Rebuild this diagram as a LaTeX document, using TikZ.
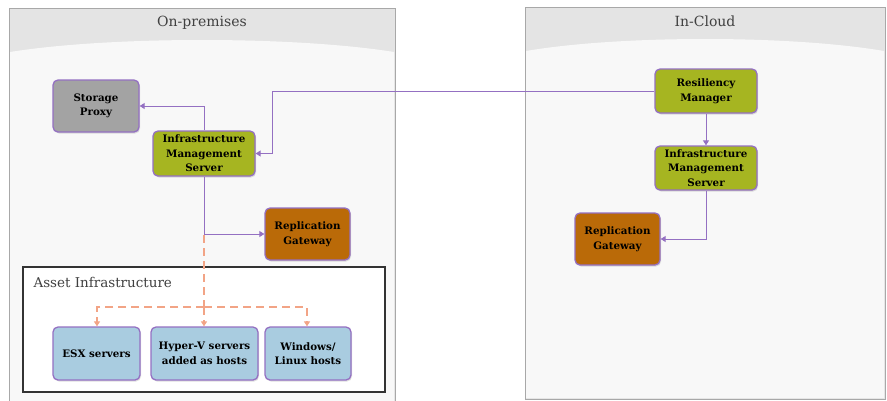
\documentclass[tikz,border=0pt]{standalone}
\usepackage{fontspec}
\setmainfont{DejaVu Serif}
\usetikzlibrary{arrows.meta,shadows}
\definecolor{panelbg}{HTML}{F8F8F8}
\definecolor{headbg}{HTML}{E4E4E4}
\definecolor{panelline}{HTML}{A8A8A8}
\definecolor{boxline}{HTML}{9470C2}
\definecolor{flow}{HTML}{9470C2}
\definecolor{dashc}{HTML}{F2A486}
\definecolor{grayfill}{HTML}{A3A3A3}
\definecolor{greenfill}{HTML}{A6B521}
\definecolor{brownfill}{HTML}{BA6A08}
\definecolor{bluefill}{HTML}{A9CCE0}
\begin{document}
\begin{tikzpicture}[x=1pt,y=-1pt,
  box/.style={draw=boxline, line width=1.3pt, rounded corners=5pt, align=center, inner sep=0pt,
    font=\bfseries\fontsize{10.3}{14.5}\selectfont,
    drop shadow={shadow xshift=1pt,shadow yshift=-1.5pt,opacity=0.25}},
  flowarrow/.style={draw=flow, line width=1pt, -{Triangle[width=6pt,length=5pt]}},
  dasharrow/.style={draw=dashc, line width=1.3pt, dash pattern=on 8pt off 5pt, -{Triangle[width=6pt,length=5pt]}},
  paneltitle/.style={font=\fontsize{14}{16}\selectfont, text=black!75}
]
\useasboundingbox (0,0) rectangle (887,400);
\fill[white] (0,0) rectangle (887,400);
% Left panel
\fill[headbg] (9,8) rectangle (395,402);
\fill[panelbg] (10,52) .. controls (110,36) and (294,36) .. (394,52) -- (394,402) -- (10,402) -- cycle;
\draw[panelline, line width=1pt] (9,402) -- (9,8) -- (395,8) -- (395,402);
\node[paneltitle] (lt) at (202,23) {On-premises};
% Right panel
\fill[headbg] (525,7) rectangle (885,399);
\fill[panelbg] (526,51) .. controls (620,35) and (790,35) .. (884,51) -- (884,398) -- (526,398) -- cycle;
\draw[panelline, line width=1pt] (525,7) rectangle (885,399);
\node[paneltitle] (rt) at (705,21) {In-Cloud};
% Asset infrastructure box
\draw[black!80, line width=1.2pt, fill=white] (23,267) rectangle (385,392);
\node[anchor=west, font=\fontsize{13.5}{15}\selectfont, text=black!75] (ai) at (30,282) {Asset Infrastructure};
% Left nodes
\node[box, fill=grayfill, minimum width=86pt, minimum height=52pt] (sp) at (96,106) {Storage\\Proxy};
\node[box, fill=greenfill, minimum width=102pt, minimum height=45pt] (imsl) at (204,153.5) {Infrastructure\\Management\\Server};
\node[box, fill=brownfill, minimum width=85pt, minimum height=52pt] (rgl) at (307.5,234) {Replication\\Gateway};
\node[box, fill=bluefill, minimum width=87pt, minimum height=53pt] (esx) at (96.5,353.5) {ESX servers};
\node[box, fill=bluefill, minimum width=107pt, minimum height=53pt] (hv) at (204.5,353.5) {Hyper-V servers\\added as hosts};
\node[box, fill=bluefill, minimum width=86pt, minimum height=53pt] (wl) at (308,353.5) {Windows/\\Linux hosts};
% Right nodes
\node[box, fill=greenfill, minimum width=102pt, minimum height=44pt] (rm) at (706,91) {Resiliency\\Manager};
\node[box, fill=greenfill, minimum width=102pt, minimum height=44pt] (imsr) at (706,168) {Infrastructure\\Management\\Server};
\node[box, fill=brownfill, minimum width=85pt, minimum height=52pt] (rgr) at (617.5,239) {Replication\\Gateway};
% coordinates
\coordinate (split) at (204,235);
\coordinate (bus) at (204,307);
% Connectors
\draw[flowarrow] (imsl.north) |- (sp.east);
\draw[flowarrow] (imsl.south) |- (rgl.west);
\draw[flowarrow] (rm.west) -- (272,91) |- (imsl.east);
\draw[flowarrow] (rm.south) -- (imsr.north);
\draw[flowarrow] (imsr.south) |- (rgr.east);
\draw[draw=dashc, line width=1.3pt, dash pattern=on 8pt off 5pt] (split) -- (bus);
\draw[dasharrow] (bus) -| (esx.north -| 97,0);
\draw[dasharrow] (bus) -- (hv.north -| bus);
\draw[dasharrow] (bus) -| (wl.north -| 307,0);
\end{tikzpicture}
\end{document}
